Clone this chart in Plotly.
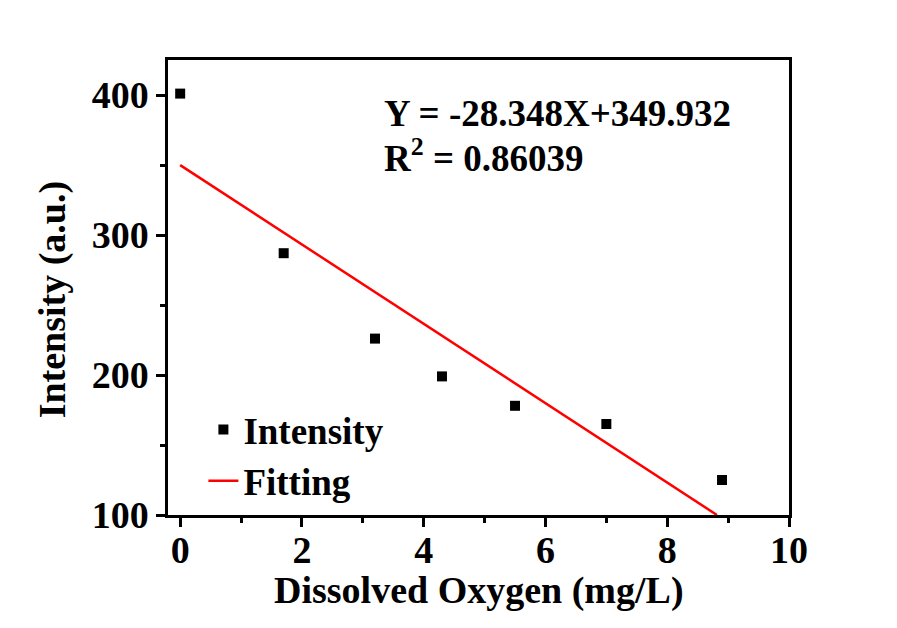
import plotly.graph_objects as go

# Data
do_mgL = [0.0, 1.7, 3.2, 4.3, 5.5, 7.0, 8.9]
intensity = [401, 287, 226, 199, 178, 165, 125]

fit_slope = -28.348
fit_intercept = 349.932
r_squared = "0.86039"

x_ticks = [0, 2, 4, 6, 8, 10]
y_ticks = [100, 200, 300, 400]
x_range = [-0.2, 10]
y_range = [100, 425]

x_title = "Dissolved Oxygen (mg/L)"
y_title = "Intensity (a.u.)"

# fit line evaluated over the data span, ending where it meets the bottom axis
fit_x_end = (y_range[0] - fit_intercept) / fit_slope
fit_x = [0.0, fit_x_end]
fit_y = [fit_slope * x + fit_intercept for x in fit_x]

FONT = "Times New Roman, Liberation Serif, serif"

fig = go.Figure()
fig.add_trace(go.Scatter(
    x=do_mgL, y=intensity, mode="markers", name="Intensity",
    marker=dict(symbol="square", size=10, color="black"),
    legendgroup="a",
))
fig.add_trace(go.Scatter(
    x=fit_x, y=fit_y, mode="lines", name="Fitting",
    line=dict(color="#ff0000", width=2.5),
    legendgroup="b",
))

axis_common = dict(
    showline=True, linecolor="black", linewidth=2.5, mirror=True,
    ticks="outside", ticklen=9, tickwidth=2.5, tickcolor="black",
    showgrid=False, zeroline=False,
    tickfont=dict(family=FONT, size=38, color="black", weight="bold"),
)

fig.update_xaxes(
    range=x_range, tickvals=x_ticks,
    minor=dict(dtick=1, tick0=0, ticks="outside", ticklen=5, tickwidth=2.5, tickcolor="black"),
    ticklabelstandoff=-9,
    **axis_common,
)
fig.update_yaxes(
    range=y_range, tickvals=y_ticks,
    minor=dict(dtick=50, tick0=0, ticks="outside", ticklen=5, tickwidth=2.5, tickcolor="black"),
    ticklabelstandoff=0,
    **axis_common,
)

title_font = dict(family=FONT, size=38, color="black", weight="bold")
# axis titles
fig.add_annotation(
    xref="paper", yref="paper", x=0.5, y=-0.166, xanchor="center", yanchor="middle",
    text=x_title, showarrow=False, font=title_font,
)
fig.add_annotation(
    xref="paper", yref="paper", x=-0.186, y=0.475, xanchor="center", yanchor="middle",
    text=y_title, showarrow=False, textangle=-90, font=title_font,
)

fig.add_annotation(
    xref="paper", yref="paper", x=0.3446, y=0.8835, xanchor="left", yanchor="middle",
    text=f"Y = {fit_slope}X+{fit_intercept}", showarrow=False,
    font=dict(family=FONT, size=37, color="black", weight="bold"),
)
fig.add_annotation(
    xref="paper", yref="paper", x=0.3446, y=0.791, xanchor="left", yanchor="middle",
    text=f"R<sup>2</sup> = {r_squared}", showarrow=False,
    font=dict(family=FONT, size=37, color="black", weight="bold"),
)

fig.update_layout(
    width=897, height=628,
    margin=dict(l=168, r=108, t=60, b=113),
    paper_bgcolor="white", plot_bgcolor="white",
    showlegend=True,
    legend=dict(
        x=0.057, y=0.255, xanchor="left", yanchor="top",
        bgcolor="rgba(0,0,0,0)", borderwidth=0,
        font=dict(family=FONT, size=37, color="black", weight="bold"),
        tracegroupgap=0,
    ),
)

fig.write_html("out.html")
